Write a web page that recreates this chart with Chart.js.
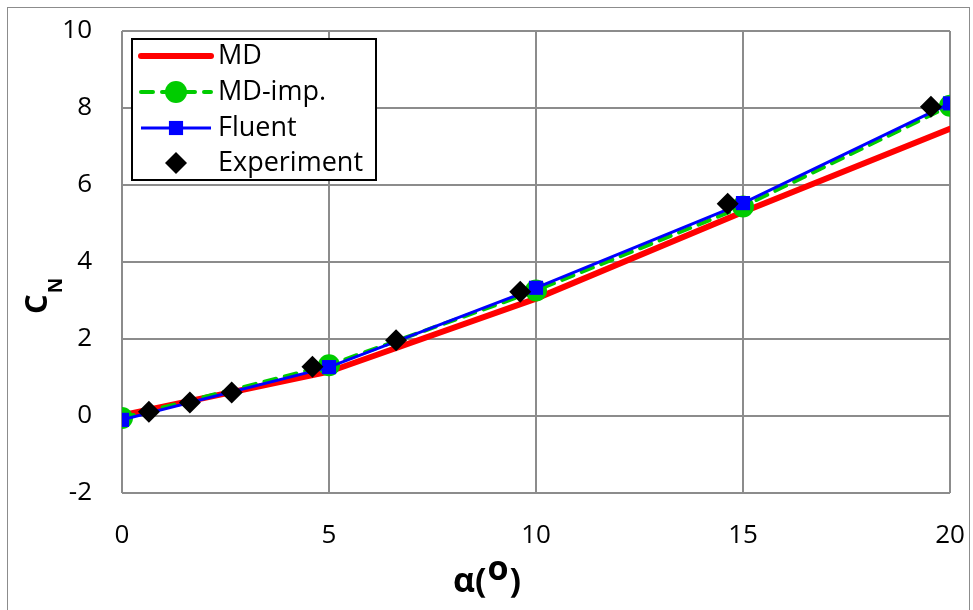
<!DOCTYPE html>
<html>
<head>
<meta charset="utf-8">
<script src="https://cdn.jsdelivr.net/npm/chart.js@4.4.1/dist/chart.umd.min.js"></script>
<style>
  html, body { margin: 0; padding: 0; background: #fff; }
  #wrap { width: 973px; height: 610px; }
</style>
</head>
<body>
<div id="wrap"><canvas id="chart" width="973" height="610"></canvas></div>
<script>
// podaci
const mdX = [0, 5, 10, 15, 20];
const mdY = [0.02, 1.15, 3.05, 5.3, 7.46];

const mdImpX = [0, 5, 10, 15, 20];
const mdImpY = [-0.05, 1.32, 3.26, 5.44, 8.06];

const fluentX = [0, 5, 10, 15, 20];
const fluentY = [-0.1, 1.27, 3.33, 5.53, 8.12];

const expX = [0.65, 1.64, 2.65, 4.6, 6.62, 9.62, 14.63, 19.54];
const expY = [0.11, 0.35, 0.61, 1.28, 1.97, 3.23, 5.51, 8.03];

const xTicks = [0, 5, 10, 15, 20];
const yTicks = [-2, 0, 2, 4, 6, 8, 10];

const seriesNames = ["MD", "MD-imp.", "Fluent", "Experiment"];

const FONT = "'Open Sans', Lato, sans-serif";
const GRID = "#8c8c8c";

function toPoints(xs, ys) {
  return xs.map((x, i) => ({ x: x, y: ys[i] }));
}

function drawDiamond(ctx, x, y, r) {
  ctx.beginPath();
  ctx.moveTo(x, y - r);
  ctx.lineTo(x + r, y);
  ctx.lineTo(x, y + r);
  ctx.lineTo(x - r, y);
  ctx.closePath();
  ctx.fill();
}

// okvir, naslovi osa i legenda
const decorPlugin = {
  id: 'decor',
  beforeDraw(chart) {
    const ctx = chart.ctx;
    ctx.save();
    ctx.fillStyle = '#fff';
    ctx.fillRect(0, 0, chart.width, chart.height);
    ctx.strokeStyle = GRID;
    ctx.lineWidth = 1;
    ctx.strokeRect(7.5, 7.5, 962, 620);
    ctx.restore();
  },
  afterDraw(chart) {
    const ctx = chart.ctx;
    ctx.save();
    ctx.fillStyle = '#000';
    ctx.textAlign = 'left';
    ctx.textBaseline = 'alphabetic';

    // x naslov: α(o) sa podignutim o
    let x = 453;
    ctx.font = "bold 34px " + FONT;
    ctx.fillText("α(", x, 592);
    x += ctx.measureText("α(").width + 1;
    ctx.fillText("o", x, 580);
    x += ctx.measureText("o").width + 1;
    ctx.fillText(")", x, 592);

    // y naslov, C sa indeksom N
    ctx.save();
    ctx.translate(47, 314);
    ctx.rotate(-Math.PI / 2);
    ctx.font = "bold 31px " + FONT;
    ctx.fillText("C", 0, 0);
    const cw = ctx.measureText("C").width;
    ctx.font = "bold 19px " + FONT;
    ctx.fillText("N", cw + 1, 15);
    ctx.restore();

    // legenda
    const bx = 132, by = 39, bw = 244, bh = 141;
    ctx.fillStyle = '#fff';
    ctx.fillRect(bx, by, bw, bh);
    ctx.strokeStyle = '#000';
    ctx.lineWidth = 2;
    ctx.strokeRect(bx, by, bw, bh);

    const rows = [56, 92, 128, 163];
    const x1 = 141, x2 = 211, mx = 176;
    ctx.font = "27px " + FONT;
    ctx.textBaseline = 'middle';

    chart.data.datasets.forEach((ds, i) => {
      const y = rows[i];
      if (ds.showLine) {
        ctx.save();
        ctx.strokeStyle = ds.borderColor;
        ctx.lineWidth = ds.borderWidth;
        ctx.lineCap = ds.borderCapStyle || 'butt';
        ctx.setLineDash(ds.borderDash || []);
        ctx.beginPath();
        ctx.moveTo(x1, y);
        ctx.lineTo(x2, y);
        ctx.stroke();
        ctx.restore();
      }
      ctx.fillStyle = ds.pointBackgroundColor;
      if (ds.pointStyle === 'circle' && ds.pointRadius > 0) {
        ctx.beginPath();
        ctx.arc(mx, y, ds.pointRadius, 0, Math.PI * 2);
        ctx.fill();
      } else if (ds.pointStyle === 'rect') {
        const s = ds.pointRadius * Math.SQRT2;
        ctx.fillRect(mx - s / 2, y - s / 2, s, s);
      } else if (ds.pointStyle === 'rectRot') {
        drawDiamond(ctx, mx, y, ds.pointRadius);
      }
      ctx.fillStyle = '#000';
      ctx.fillText(ds.label, 218, y);
    });

    ctx.restore();
  }
};

const ctx = document.getElementById('chart').getContext('2d');

new Chart(ctx, {
  type: 'scatter',
  data: {
    datasets: [
      {
        label: seriesNames[0],
        data: toPoints(mdX, mdY),
        showLine: true,
        borderColor: '#ff0000',
        backgroundColor: '#ff0000',
        pointBackgroundColor: '#ff0000',
        borderWidth: 6,
        borderCapStyle: 'round',
        pointRadius: 0,
        pointStyle: 'circle',
        order: 3
      },
      {
        label: seriesNames[1],
        data: toPoints(mdImpX, mdImpY),
        showLine: true,
        borderColor: '#00cc00',
        backgroundColor: '#00cc00',
        pointBackgroundColor: '#00cc00',
        pointBorderWidth: 0,
        borderWidth: 4,
        borderDash: [12, 9],
        borderCapStyle: 'round',
        pointRadius: 11,
        pointStyle: 'circle',
        order: 2
      },
      {
        label: seriesNames[2],
        data: toPoints(fluentX, fluentY),
        showLine: true,
        borderColor: '#0000ff',
        backgroundColor: '#0000ff',
        pointBackgroundColor: '#0000ff',
        pointBorderWidth: 0,
        borderWidth: 3,
        pointRadius: 10,
        pointStyle: 'rect',
        order: 1
      },
      {
        label: seriesNames[3],
        data: toPoints(expX, expY),
        showLine: false,
        borderColor: '#000',
        backgroundColor: '#000',
        pointBackgroundColor: '#000',
        pointBorderWidth: 0,
        pointRadius: 11,
        pointStyle: 'rectRot',
        order: 0
      }
    ]
  },
  options: {
    responsive: false,
    animation: false,
    devicePixelRatio: 1,
    layout: { padding: { left: 0, top: 31, right: 23, bottom: 0 } },
    plugins: {
      legend: { display: false },
      tooltip: { enabled: false }
    },
    scales: {
      x: {
        type: 'linear',
        min: 0,
        max: 20,
        afterBuildTicks: axis => { axis.ticks = xTicks.map(v => ({ value: v })); },
        afterFit: axis => {
          axis.height = 117;
          axis.paddingLeft = 0;
          axis.paddingRight = 0;
        },
        grid: { color: GRID, lineWidth: 2, drawTicks: false },
        border: { display: false },
        ticks: {
          color: '#000',
          padding: 27,
          maxRotation: 0,
          font: { family: FONT, size: 26 }
        }
      },
      y: {
        type: 'linear',
        min: -2,
        max: 10,
        afterBuildTicks: axis => { axis.ticks = yTicks.map(v => ({ value: v })); },
        afterFit: axis => {
          axis.width = 122;
          axis.paddingTop = 0;
          axis.paddingBottom = 0;
        },
        grid: { color: GRID, lineWidth: 2, drawTicks: false },
        border: { display: false },
        ticks: {
          color: '#000',
          padding: 30,
          font: { family: FONT, size: 26 }
        }
      }
    }
  },
  plugins: [decorPlugin]
});
</script>
</body>
</html>
